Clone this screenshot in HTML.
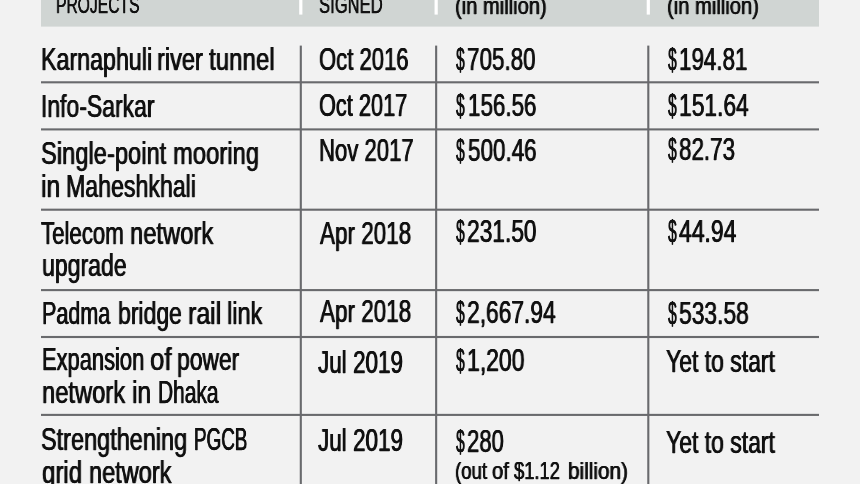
<!DOCTYPE html>
<html lang="en">
<head>
<meta charset="utf-8">
<title>Projects table</title>
<style>
html,body{margin:0;padding:0;background:#f2f2f2;}
html{overflow:hidden;}
body{width:860px;height:484px;}
.page{position:relative;width:860px;height:484px;overflow:hidden;background:#f2f2f2;}
.g{position:absolute;left:0;top:0;display:block;}
.t{position:absolute;white-space:pre;line-height:1;font-family:"Liberation Sans",Arial,sans-serif;color:#111111;-webkit-text-stroke:0.25px #111111;transform-origin:0 0;will-change:transform;}
.b{font-size:31.3px;text-shadow:0.52px 0 0 #111111,-0.52px 0 0 #111111;}
.s{font-size:24.0px;text-shadow:0.42px 0 0 #111111,-0.42px 0 0 #111111;}
.h{font-size:24.0px;text-shadow:0.28px 0 0 #111111,-0.28px 0 0 #111111;}
</style>
</head>
<body>
<div class="page">
<svg class="g" width="860" height="484" viewBox="0 0 860 484">
<rect x="41" y="0" width="778" height="26.6" fill="#d0d5d3"/>
<rect x="299.20" y="0" width="3.2" height="14.6" fill="#ffffff"/>
<rect x="434.55" y="0" width="3.2" height="14.6" fill="#ffffff"/>
<rect x="646.70" y="0" width="3.2" height="14.6" fill="#ffffff"/>
<rect x="41" y="81.25" width="778" height="2.10" fill="#696a6d"/>
<rect x="41" y="128.35" width="778" height="2.10" fill="#696a6d"/>
<rect x="41" y="208.65" width="778" height="2.10" fill="#696a6d"/>
<rect x="41" y="289.05" width="778" height="2.10" fill="#696a6d"/>
<rect x="41" y="335.95" width="778" height="2.10" fill="#696a6d"/>
<rect x="41" y="413.85" width="778" height="2.10" fill="#696a6d"/>
<rect x="299.75" y="45.6" width="2.10" height="440" fill="#696a6d"/>
<rect x="435.10" y="45.6" width="2.10" height="440" fill="#696a6d"/>
<rect x="647.25" y="45.6" width="2.10" height="440" fill="#696a6d"/>
</svg>
<div class="t h" style="left:56.18px;top:-6.95px;transform:scaleX(0.6523)">PROJECTS</div>
<div class="t h" style="left:319.13px;top:-7.00px;transform:scaleX(0.6918)">SIGNED</div>
<div class="t s" style="left:454.69px;top:-6.00px;transform:scaleX(0.8385)">(in million)</div>
<div class="t s" style="left:666.69px;top:-6.00px;transform:scaleX(0.8404)">(in million)</div>
<div class="t b" style="left:41.43px;top:44.15px;transform:scaleX(0.7423)">Karnaphuli </div>
<div class="t b" style="left:157.49px;top:44.15px;transform:scaleX(0.7522)">river </div>
<div class="t b" style="left:209.32px;top:44.15px;transform:scaleX(0.7698)">tunnel</div>
<div class="t b" style="left:318.61px;top:44.15px;transform:scaleX(0.7056)">Oct 2016</div>
<div class="t b" style="left:455.81px;top:44.05px;transform:scaleX(0.5017)">$</div>
<div class="t b" style="left:467.40px;top:44.05px;transform:scaleX(0.7167)">705.80</div>
<div class="t b" style="left:667.91px;top:44.15px;transform:scaleX(0.5017)">$</div>
<div class="t b" style="left:679.19px;top:44.15px;transform:scaleX(0.7145)">194.81</div>
<div class="t b" style="left:40.98px;top:91.10px;transform:scaleX(0.7328)">Info-Sarkar</div>
<div class="t b" style="left:318.62px;top:90.20px;transform:scaleX(0.6950)">Oct 2017</div>
<div class="t b" style="left:455.81px;top:90.00px;transform:scaleX(0.5017)">$</div>
<div class="t b" style="left:467.68px;top:90.00px;transform:scaleX(0.7156)">156.56</div>
<div class="t b" style="left:667.91px;top:90.10px;transform:scaleX(0.5017)">$</div>
<div class="t b" style="left:679.16px;top:90.10px;transform:scaleX(0.7289)">151.64</div>
<div class="t b" style="left:41.26px;top:138.00px;transform:scaleX(0.7579)">Single-point </div>
<div class="t b" style="left:173.17px;top:138.00px;transform:scaleX(0.7606)">mooring</div>
<div class="t b" style="left:41.43px;top:171.20px;transform:scaleX(0.7891)">in </div>
<div class="t b" style="left:66.14px;top:171.20px;transform:scaleX(0.7394)">Maheshkhali</div>
<div class="t b" style="left:318.80px;top:135.05px;transform:scaleX(0.7067)">Nov 2017</div>
<div class="t b" style="left:455.81px;top:135.05px;transform:scaleX(0.5017)">$</div>
<div class="t b" style="left:468.08px;top:135.05px;transform:scaleX(0.7167)">500.46</div>
<div class="t b" style="left:667.91px;top:134.00px;transform:scaleX(0.5017)">$</div>
<div class="t b" style="left:679.48px;top:134.00px;transform:scaleX(0.7149)">82.73</div>
<div class="t b" style="left:41.24px;top:218.00px;transform:scaleX(0.7100)">Telecom </div>
<div class="t b" style="left:129.88px;top:218.00px;transform:scaleX(0.7592)">network</div>
<div class="t b" style="left:41.71px;top:250.00px;transform:scaleX(0.7366)">upgrade</div>
<div class="t b" style="left:319.67px;top:218.15px;transform:scaleX(0.7177)">Apr 2018</div>
<div class="t b" style="left:455.81px;top:216.05px;transform:scaleX(0.5017)">$</div>
<div class="t b" style="left:466.99px;top:216.05px;transform:scaleX(0.7263)">231.50</div>
<div class="t b" style="left:667.91px;top:216.15px;transform:scaleX(0.5017)">$</div>
<div class="t b" style="left:678.93px;top:216.15px;transform:scaleX(0.7327)">44.94</div>
<div class="t b" style="left:41.64px;top:298.00px;transform:scaleX(0.6882)">Padma </div>
<div class="t b" style="left:117.81px;top:298.00px;transform:scaleX(0.7346)">bridge </div>
<div class="t b" style="left:188.42px;top:298.00px;transform:scaleX(0.7966)">rail </div>
<div class="t b" style="left:226.79px;top:298.00px;transform:scaleX(0.7515)">link</div>
<div class="t b" style="left:319.67px;top:296.20px;transform:scaleX(0.7177)">Apr 2018</div>
<div class="t b" style="left:455.81px;top:297.10px;transform:scaleX(0.5017)">$</div>
<div class="t b" style="left:466.99px;top:297.10px;transform:scaleX(0.7276)">2,667.94</div>
<div class="t b" style="left:667.91px;top:298.20px;transform:scaleX(0.5017)">$</div>
<div class="t b" style="left:679.47px;top:298.20px;transform:scaleX(0.7295)">533.58</div>
<div class="t b" style="left:41.92px;top:344.15px;transform:scaleX(0.6995)">Expansion </div>
<div class="t b" style="left:149.80px;top:344.15px;transform:scaleX(0.8220)">of </div>
<div class="t b" style="left:176.52px;top:344.15px;transform:scaleX(0.7304)">power</div>
<div class="t b" style="left:41.68px;top:377.00px;transform:scaleX(0.7582)">network </div>
<div class="t b" style="left:131.65px;top:377.00px;transform:scaleX(0.7797)">in </div>
<div class="t b" style="left:157.98px;top:377.00px;transform:scaleX(0.6682)">Dhaka</div>
<div class="t b" style="left:318.31px;top:347.15px;transform:scaleX(0.7179)">Jul 2019</div>
<div class="t b" style="left:455.81px;top:345.05px;transform:scaleX(0.5017)">$</div>
<div class="t b" style="left:467.15px;top:345.05px;transform:scaleX(0.7334)">1,200</div>
<div class="t b" style="left:666.33px;top:346.00px;transform:scaleX(0.7338)">Yet to start</div>
<div class="t b" style="left:41.27px;top:424.05px;transform:scaleX(0.7499)">Strengthening </div>
<div class="t b" style="left:193.61px;top:424.05px;transform:scaleX(0.6021)">PGCB</div>
<div class="t b" style="left:41.54px;top:457.00px;transform:scaleX(0.7692)">grid </div>
<div class="t b" style="left:88.79px;top:457.00px;transform:scaleX(0.7518)">network</div>
<div class="t b" style="left:318.31px;top:425.15px;transform:scaleX(0.7179)">Jul 2019</div>
<div class="t b" style="left:455.81px;top:426.10px;transform:scaleX(0.5017)">$</div>
<div class="t b" style="left:467.21px;top:426.10px;transform:scaleX(0.7064)">280</div>
<div class="t s" style="left:454.96px;top:459.15px;transform:scaleX(0.7761)">(out </div>
<div class="t s" style="left:491.91px;top:459.15px;transform:scaleX(0.8417)">of </div>
<div class="t s" style="left:514.33px;top:459.15px;transform:scaleX(0.7634)">$1.12  </div>
<div class="t s" style="left:568.27px;top:459.15px;transform:scaleX(0.8645)">billion)</div>
<div class="t b" style="left:666.33px;top:427.00px;transform:scaleX(0.7338)">Yet to start</div>
</div>
</body>
</html>
